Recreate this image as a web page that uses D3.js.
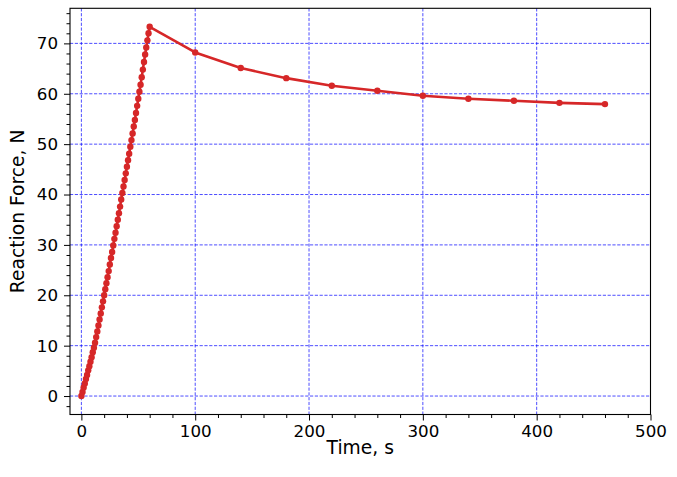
<!DOCTYPE html>
<html>
<head>
<meta charset="utf-8">
<script src="https://cdn.jsdelivr.net/npm/d3@7"></script>
<style>
  body { margin: 0; background: #fff; }
  svg { display: block; }
  text { font-family: "DejaVu Sans", "Liberation Sans", sans-serif; fill: #000; }
  .tick text { font-size: 16.7px; }
  .tick line { stroke: #000; stroke-width: 1; }
  .grid line { stroke: #0000ff; stroke-width: 0.7; stroke-dasharray: 3.2,1.6; }
</style>
</head>
<body>
<script>
// Loading phase: time (s) and reaction force (N)
var loadTime = [0, 1, 2, 3, 4, 5, 6, 7, 8, 9, 10, 11, 12, 13, 14, 15, 16, 17, 18, 19, 20,
  21, 22, 23, 24, 25, 26, 27, 28, 29, 30, 31, 32, 33, 34, 35, 36, 37, 38, 39, 40,
  41, 42, 43, 44, 45, 46, 47, 48, 49, 50, 51, 52, 53, 54, 55, 56, 57, 58, 59, 60];
var loadForce = [0, 0.8, 1.7, 2.5, 3.4, 4.2, 5.1, 5.9, 6.8, 7.7, 8.7, 9.6, 10.6, 11.7, 12.8, 14.0,
  15.2, 16.4, 17.6, 18.8, 20.0, 21.2, 22.4, 23.6, 24.8, 26.1, 27.4, 28.6, 29.9, 31.2, 32.4,
  33.7, 35.0, 36.3, 37.6, 39.0, 40.3, 41.6, 42.9, 44.2, 45.5, 46.8, 48.1, 49.5, 50.8, 52.1,
  53.5, 54.8, 56.2, 57.6, 59.0, 60.4, 61.8, 63.3, 64.8, 66.3, 67.8, 69.2, 70.6, 72.0, 73.3];

// Relaxation phase
var relaxTime = [100, 140, 180, 220, 260, 300, 340, 380, 420, 460];
var relaxForce = [68.2, 65.1, 63.1, 61.6, 60.6, 59.6, 59.0, 58.6, 58.2, 57.95];

var xTicks = [0, 100, 200, 300, 400, 500];
var yTicks = [0, 10, 20, 30, 40, 50, 60, 70];
var xMinor = d3.range(20, 500, 20).filter(d => d % 100 !== 0);
var yMinor = d3.range(-2, 77, 2).filter(d => d % 10 !== 0);

var svgWidth = 677;
var svgHeight = 477;

// Plot box in pixels
var box = { left: 70, right: 650.5, top: 8.3, bottom: 414.5 };

var svg = d3.select("body")
  .append("svg")
  .attr("width", svgWidth)
  .attr("height", svgHeight);

var data = loadTime.map((t, i) => ({ t: t, f: loadForce[i] }))
  .concat(relaxTime.map((t, i) => ({ t: t, f: relaxForce[i] })));

var xScale = d3.scaleLinear()
  .domain([-10, 500])
  .range([box.left, box.right]);

var yScale = d3.scaleLinear()
  .domain([-3.665, 76.965])
  .range([box.bottom, box.top]);

// Grid lines
var grid = svg.append("g").classed("grid", true);
grid.selectAll(".gx")
  .data(xTicks)
  .join("line")
  .attr("x1", d => xScale(d)).attr("x2", d => xScale(d))
  .attr("y1", box.top).attr("y2", box.bottom);
grid.selectAll(".gy")
  .data(yTicks)
  .join("line")
  .attr("x1", box.left).attr("x2", box.right)
  .attr("y1", d => yScale(d)).attr("y2", d => yScale(d));

// Data line and markers
var drawLine = d3.line()
  .x(d => xScale(d.t))
  .y(d => yScale(d.f));

svg.append("path")
  .attr("d", drawLine(data))
  .attr("fill", "none")
  .attr("stroke", "#d62728")
  .attr("stroke-width", 2.6)
  .attr("stroke-linejoin", "round");

svg.append("g")
  .selectAll("circle")
  .data(data)
  .join("circle")
  .attr("cx", d => xScale(d.t))
  .attr("cy", d => yScale(d.f))
  .attr("r", 3.2)
  .attr("fill", "#d62728");

// Axes: major with labels, minor without
function cleanAxis(g) {
  g.select(".domain").remove();
  g.attr("font-family", null).attr("font-size", null);
}

svg.append("g")
  .attr("transform", `translate(0, ${box.bottom})`)
  .call(d3.axisBottom(xScale).tickValues(xTicks).tickSize(6).tickPadding(5))
  .call(cleanAxis);
svg.append("g")
  .attr("transform", `translate(0, ${box.bottom})`)
  .call(d3.axisBottom(xScale).tickValues(xMinor).tickSize(3.5).tickFormat(""))
  .call(cleanAxis);

svg.append("g")
  .attr("transform", `translate(${box.left}, 0)`)
  .call(d3.axisLeft(yScale).tickValues(yTicks).tickSize(6).tickPadding(6))
  .call(cleanAxis);
svg.append("g")
  .attr("transform", `translate(${box.left}, 0)`)
  .call(d3.axisLeft(yScale).tickValues(yMinor).tickSize(3.5).tickFormat(""))
  .call(cleanAxis);

// Spines
svg.append("rect")
  .attr("x", box.left).attr("y", box.top)
  .attr("width", box.right - box.left)
  .attr("height", box.bottom - box.top)
  .attr("fill", "none")
  .attr("stroke", "#000")
  .attr("stroke-width", 1.1);

// Axis titles
svg.append("text")
  .attr("x", (box.left + box.right) / 2)
  .attr("y", 454)
  .attr("text-anchor", "middle")
  .style("font-size", "18.7px")
  .text("Time, s");

svg.append("text")
  .attr("transform", `translate(24, ${(box.top + box.bottom) / 2}) rotate(-90)`)
  .attr("text-anchor", "middle")
  .style("font-size", "18.7px")
  .text("Reaction Force, N");
</script>
</body>
</html>
